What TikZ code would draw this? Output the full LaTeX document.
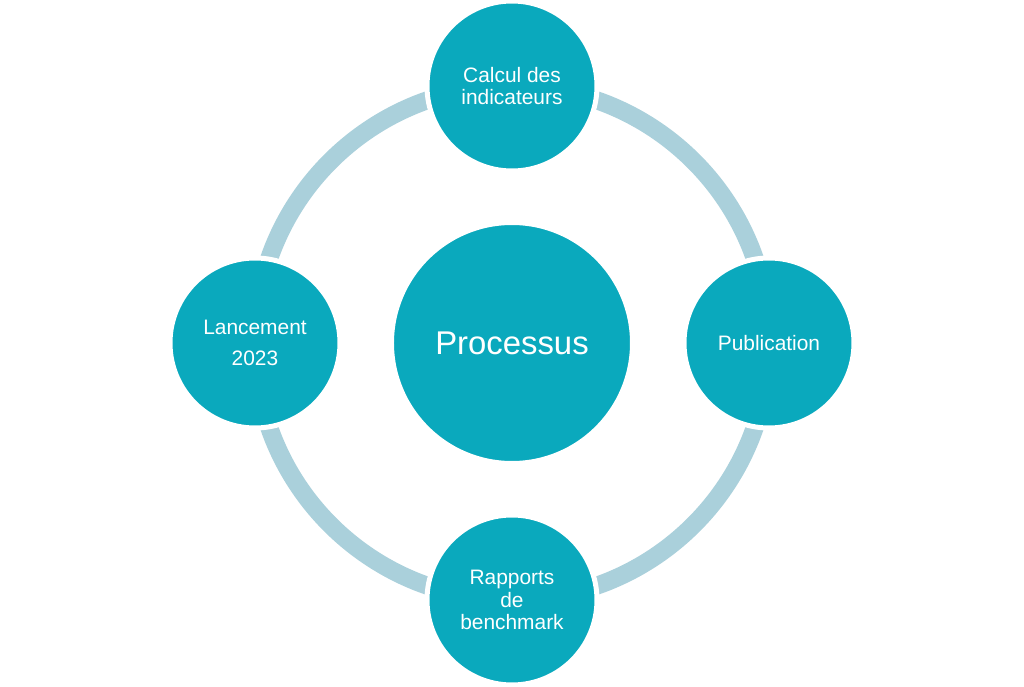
\documentclass[tikz,border=0pt]{standalone}
\usepackage{fontspec}
\setmainfont{Liberation Sans}
\usetikzlibrary{backgrounds}
\definecolor{tealfill}{RGB}{10,169,189}
\definecolor{ringblue}{RGB}{170,208,219}

\begin{document}
\begin{tikzpicture}[every node/.style={circle, fill=tealfill, draw=white, line width=0.1cm, text=white, align=center, inner sep=0pt}, step node/.style={minimum size=3.4cm, font=\fontsize{11.9}{12.8}\selectfont}, ring/.style={draw=ringblue, line width=0.36cm}]
			\useasboundingbox (-10.24,-6.88) rectangle (10.24,6.86);
			\node[minimum size=4.82cm, font=\fontsize{18.7}{20}\selectfont] (proc) at (0,0){Processus};
			\node[step node] (calc) at (0,5.14){Calcul des\\indicateurs};
			\node[step node] (pub) at (5.14,0){Publication};
			\node[step node] (rapp) at (0,-5.14){Rapports\\de\\benchmark};
			\node[step node] (lanc) at (-5.14,0){Lancement\\[4.8pt]2023};
			
			\begin{scope}[on background layer]
			\path[ring] (calc.center) arc[start angle=90, end angle=0, radius=5.14cm];
			\path[ring] (pub.center) arc[start angle=0, end angle=-90, radius=5.14cm];
			\path[ring] (rapp.center) arc[start angle=-90, end angle=-180, radius=5.14cm];
			\path[ring] (lanc.center) arc[start angle=180, end angle=90, radius=5.14cm];
			\end{scope}
			\end{tikzpicture}
\end{document}
